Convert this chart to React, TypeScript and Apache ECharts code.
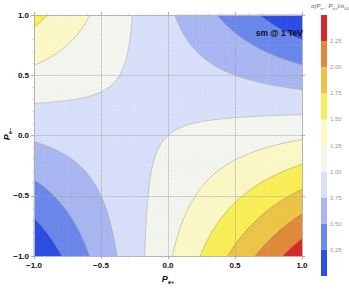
import React, { useEffect, useRef } from "react";
import * as echarts from "echarts";

// Grid of polarisations (x: P_e+, y: P_e-)
const pePlus = [-1, -0.75, -0.5, -0.25, 0, 0.25, 0.5, 0.75, 1];
const peMinus = [-1, -0.75, -0.5, -0.25, 0, 0.25, 0.5, 0.75, 1];

// sigma(P_e-, P_e+)/sigma_UU, one row per P_e- value (bottom to top)
const rowPeMinusM100 = [0, 0.303, 0.605, 0.908, 1.21, 1.513, 1.815, 2.118, 2.42];
const rowPeMinusM075 = [0.198, 0.438, 0.678, 0.918, 1.158, 1.398, 1.638, 1.878, 2.118];
const rowPeMinusM050 = [0.395, 0.573, 0.75, 0.928, 1.105, 1.283, 1.46, 1.638, 1.815];
const rowPeMinusM025 = [0.593, 0.708, 0.823, 0.938, 1.053, 1.168, 1.283, 1.398, 1.513];
const rowPeMinus000 = [0.79, 0.843, 0.895, 0.948, 1.0, 1.053, 1.105, 1.158, 1.21];
const rowPeMinusP025 = [0.988, 0.978, 0.968, 0.958, 0.948, 0.938, 0.928, 0.918, 0.908];
const rowPeMinusP050 = [1.185, 1.113, 1.04, 0.968, 0.895, 0.823, 0.75, 0.678, 0.605];
const rowPeMinusP075 = [1.383, 1.248, 1.113, 0.978, 0.843, 0.708, 0.573, 0.438, 0.303];
const rowPeMinusP100 = [1.58, 1.383, 1.185, 0.988, 0.79, 0.593, 0.395, 0.198, 0];
const sigmaRatio = [
  rowPeMinusM100, rowPeMinusM075, rowPeMinusM050, rowPeMinusM025, rowPeMinus000,
  rowPeMinusP025, rowPeMinusP050, rowPeMinusP075, rowPeMinusP100,
];

const contourLevels = [0.25, 0.5, 0.75, 1.0, 1.25, 1.5, 1.75, 2.0, 2.25];
const colorbarMin = 0;
const colorbarMax = 2.5;
const bandColors = [
  "#2f4fe4",
  "#6b88ea",
  "#a8b7f1",
  "#d8dff9",
  "#f3f5ee",
  "#fbf7c7",
  "#f8ee58",
  "#ecc548",
  "#e08a3d",
  "#d52a2f",
];
const plotLabel = "sm @ 1 TeV";

const FRAME = "#b4b4b4";
const TICK = "#9a9a9a";

function bandOf(v: number) {
  let k = 0;
  while (k < contourLevels.length && v >= contourLevels[k]) k++;
  return k;
}

function fmt(n: number) {
  return n.toFixed(2);
}

function polyPath(ps: number[][]) {
  return "M" + ps.map((p) => fmt(p[0]) + " " + fmt(p[1])).join("L") + "Z";
}

function clipPoly(ps: number[][], level: number, keepAbove: boolean) {
  const out: number[][] = [];
  for (let m = 0; m < ps.length; m++) {
    const a = ps[m];
    const b = ps[(m + 1) % ps.length];
    const ina = keepAbove ? a[2] >= level : a[2] <= level;
    const inb = keepAbove ? b[2] >= level : b[2] <= level;
    if (ina) out.push(a);
    if (ina !== inb) {
      const t = (level - a[2]) / (b[2] - a[2]);
      out.push([a[0] + (b[0] - a[0]) * t, a[1] + (b[1] - a[1]) * t, level]);
    }
  }
  return out;
}

function renderCell(_params: any, api: any) {
  const i = api.value(2) as number;
  const j = api.value(3) as number;
  const z00 = sigmaRatio[j][i];
  const z10 = sigmaRatio[j][i + 1];
  const z01 = sigmaRatio[j + 1][i];
  const z11 = sigmaRatio[j + 1][i + 1];
  const pA = api.coord([pePlus[i], peMinus[j]]);
  const pB = api.coord([pePlus[i + 1], peMinus[j + 1]]);
  const N = 10;
  const pts: number[][][] = [];
  for (let a = 0; a <= N; a++) {
    const row: number[][] = [];
    const u = a / N;
    for (let b = 0; b <= N; b++) {
      const w = b / N;
      const v =
        z00 * (1 - u) * (1 - w) + z10 * u * (1 - w) + z01 * (1 - u) * w + z11 * u * w;
      row.push([pA[0] + (pB[0] - pA[0]) * u, pA[1] + (pB[1] - pA[1]) * w, v]);
    }
    pts.push(row);
  }
  const fills: string[] = bandColors.map(() => "");
  let lines = "";
  for (let a = 0; a < N; a++) {
    for (let b = 0; b < N; b++) {
      const q = [pts[a][b], pts[a + 1][b], pts[a + 1][b + 1], pts[a][b + 1]];
      const ks = q.map((p) => bandOf(p[2]));
      const kmin = Math.min(...ks);
      const kmax = Math.max(...ks);
      if (kmin === kmax) {
        fills[kmin] += polyPath(q);
        continue;
      }
      const tris = [
        [q[0], q[1], q[2]],
        [q[0], q[2], q[3]],
      ];
      for (const tri of tris) {
        const tk = tri.map((p) => bandOf(p[2]));
        const tmin = Math.min(...tk);
        const tmax = Math.max(...tk);
        for (let k = tmin; k <= tmax; k++) {
          let ps = tri;
          if (k > 0) ps = clipPoly(ps, contourLevels[k - 1], true);
          if (k < contourLevels.length && ps.length) ps = clipPoly(ps, contourLevels[k], false);
          if (ps.length >= 3) fills[k] += polyPath(ps);
        }
        for (const L of contourLevels) {
          const cross: number[][] = [];
          for (let m = 0; m < 3; m++) {
            const p = tri[m];
            const r = tri[(m + 1) % 3];
            if ((p[2] >= L) !== (r[2] >= L)) {
              const t = (L - p[2]) / (r[2] - p[2]);
              cross.push([p[0] + (r[0] - p[0]) * t, p[1] + (r[1] - p[1]) * t]);
            }
          }
          if (cross.length === 2) {
            lines +=
              "M" + fmt(cross[0][0]) + " " + fmt(cross[0][1]) +
              "L" + fmt(cross[1][0]) + " " + fmt(cross[1][1]);
          }
        }
      }
    }
  }
  const children: any[] = [];
  fills.forEach((d, k) => {
    if (d) {
      children.push({
        type: "path",
        shape: { pathData: d },
        style: { fill: bandColors[k], stroke: bandColors[k], lineWidth: 0.5 },
      });
    }
  });
  if (lines) {
    children.push({
      type: "path",
      shape: { pathData: lines },
      style: { fill: null, stroke: "rgba(95,95,95,0.5)", lineWidth: 0.6 },
    });
  }
  return { type: "group", children };
}

const tickFmt = (v: number) => v.toFixed(1).replace("-", "\u2212");

export default function App() {
  const ref = useRef<HTMLDivElement>(null);
  useEffect(() => {
    if (!ref.current) return;
    const chart = echarts.init(ref.current, null, { renderer: "svg" });

    const cells: number[][] = [];
    for (let j = 0; j < peMinus.length - 1; j++) {
      for (let i = 0; i < pePlus.length - 1; i++) {
        cells.push([pePlus[i], peMinus[j], i, j]);
      }
    }
    const edges = [colorbarMin, ...contourLevels, colorbarMax];
    const cbSeries = bandColors.map((c, k) => ({
      type: "bar",
      xAxisIndex: 2,
      yAxisIndex: 2,
      stack: "cb",
      barWidth: "100%",
      data: [edges[k + 1] - edges[k]],
      itemStyle: { color: c },
      silent: true,
    }));

    const font = "Liberation Sans";
    const mainAxisCommon = {
      type: "value",
      min: -1,
      max: 1,
      interval: 0.5,
      z: 10,
      gridIndex: 0,
    };
    const frameLine = { show: true, onZero: false, lineStyle: { color: FRAME, width: 1 } };
    const ticks = { show: true, length: 3, lineStyle: { color: TICK, width: 0.8 } };
    const minor = { show: true, splitNumber: 5, length: 1.8, lineStyle: { color: "#c4c4c4", width: 0.6 } };
    const labels = {
      fontSize: 8,
      fontWeight: "bold",
      color: "#111",
      fontFamily: font,
      formatter: tickFmt,
    };
    const split = { show: true, lineStyle: { type: "dotted", color: "#9a9a9a", width: 0.8 } };

    chart.setOption({
      animation: false,
      grid: [
        { left: 34, top: 15, width: 268, height: 241 },
        { left: 321, top: 15, width: 6, height: 261 },
      ],
      xAxis: [
        {
          ...mainAxisCommon,
          position: "bottom",
          axisLine: frameLine,
          axisTick: ticks,
          minorTick: minor,
          axisLabel: { ...labels, margin: 5 },
          splitLine: split,
        },
        {
          ...mainAxisCommon,
          position: "top",
          axisLine: frameLine,
          axisTick: ticks,
          minorTick: minor,
          axisLabel: { show: false },
          splitLine: { show: false },
        },
        {
          type: "category",
          gridIndex: 1,
          data: ["bar"],
          show: false,
        },
      ],
      yAxis: [
        {
          ...mainAxisCommon,
          position: "left",
          axisLine: frameLine,
          axisTick: ticks,
          minorTick: minor,
          axisLabel: { ...labels, margin: 5 },
          splitLine: split,
        },
        {
          ...mainAxisCommon,
          position: "right",
          axisLine: frameLine,
          axisTick: ticks,
          minorTick: minor,
          axisLabel: { show: false },
          splitLine: { show: false },
        },
        {
          type: "value",
          gridIndex: 1,
          min: colorbarMin,
          max: colorbarMax,
          interval: 0.25,
          position: "right",
          axisLine: { show: false },
          axisTick: { show: false },
          splitLine: { show: false },
          axisLabel: {
            showMinLabel: false,
            showMaxLabel: false,
            fontSize: 6,
            color: "#9a9a9a",
            fontFamily: font,
            margin: 3,
            formatter: (v: number) => v.toFixed(2),
          },
        },
      ],
      series: [
        {
          type: "custom",
          xAxisIndex: 0,
          yAxisIndex: 0,
          data: cells,
          encode: { x: 0, y: 1 },
          renderItem: renderCell,
          silent: true,
          z: 2,
        },
        ...cbSeries,
      ],
      graphic: [
        {
          type: "text",
          x: 303,
          y: 33,
          z: 20,
          style: {
            text: plotLabel,
            fontSize: 8.5,
            fontWeight: "bold",
            fontFamily: font,
            fill: "#111",
            align: "right",
            verticalAlign: "middle",
          },
        },
        {
          type: "text",
          x: 168,
          y: 279,
          style: {
            text: "{p|P}{s|e+}",
            align: "center",
            verticalAlign: "middle",
            rich: {
              p: { fontSize: 9, fontWeight: "bold", fontStyle: "italic", fontFamily: font, fill: "#111", lineHeight: 12, verticalAlign: "middle" },
              s: { fontSize: 5.5, fontWeight: "bold", fontStyle: "italic", fontFamily: font, fill: "#111", lineHeight: 12, verticalAlign: "bottom" },
            },
          },
        },
        {
          type: "text",
          x: 7,
          y: 134,
          rotation: Math.PI / 2,
          style: {
            text: "{p|P}{s|e\u2212}",
            align: "center",
            verticalAlign: "middle",
            rich: {
              p: { fontSize: 9, fontWeight: "bold", fontStyle: "italic", fontFamily: font, fill: "#111", lineHeight: 12, verticalAlign: "middle" },
              s: { fontSize: 5.5, fontWeight: "bold", fontStyle: "italic", fontFamily: font, fill: "#111", lineHeight: 12, verticalAlign: "bottom" },
            },
          },
        },
        {
          type: "text",
          x: 311,
          y: 6,
          style: {
            text: "{t|\u03c3(}{p|P}{s|e\u2212}{t|, }{p|P}{s|e+}{t|)/\u03c3}{s|UU}",
            align: "left",
            verticalAlign: "middle",
            rich: {
              t: { fontSize: 6, fontStyle: "italic", fontFamily: font, fill: "#555", lineHeight: 9, verticalAlign: "middle" },
              p: { fontSize: 6, fontStyle: "italic", fontFamily: font, fill: "#555", lineHeight: 9, verticalAlign: "middle" },
              s: { fontSize: 4, fontStyle: "italic", fontFamily: font, fill: "#555", lineHeight: 9, verticalAlign: "bottom" },
            },
          },
        },
      ],
    });
    return () => chart.dispose();
  }, []);
  return (
    <div
      ref={ref}
      style={{ position: "fixed", left: 0, top: 0, width: 349, height: 292, background: "#fff" }}
    />
  );
}
